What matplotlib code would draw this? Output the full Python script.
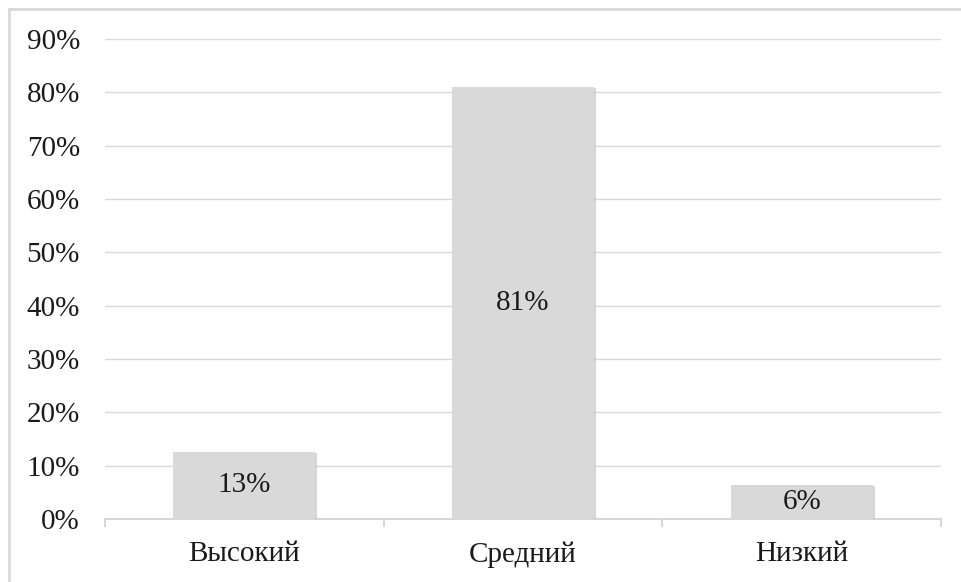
import matplotlib
matplotlib.use("Agg")
import matplotlib.pyplot as plt
from matplotlib.lines import Line2D
import matplotlib.patheffects as pe

categories = ["Высокий", "Средний", "Низкий"]
values = [12.6, 81.0, 6.4]
value_labels = ["13%", "81%", "6%"]
yticks = [0, 10, 20, 30, 40, 50, 60, 70, 80, 90]

plt.rcParams['font.family'] = ['Liberation Serif', 'DejaVu Serif']

W, H = 961, 582
fig = plt.figure(figsize=(W / 100, H / 100), dpi=100)
ax = fig.add_axes([105 / W, 1 - 519 / H, (941 - 105) / W, (519 - 39) / H])

x = list(range(len(categories)))
bars = ax.bar(x, values, width=0.51, color="#d9d9d9", zorder=3,
              path_effects=[pe.SimplePatchShadow(offset=(1.5, -1), shadow_rgbFace="#b0b0b0", alpha=0.5),
                            pe.Normal()])

for xi, v, lab in zip(x, values, value_labels):
    ax.text(xi, v / 2, lab, ha="center", va="center", fontsize=21, color="#1a1a1a", zorder=4)

ax.set_xlim(-0.5, 2.5)
ax.set_ylim(0, 90)
ax.set_yticks(yticks)
ax.set_yticklabels([f"{t}%" for t in yticks], fontsize=21, color="#1a1a1a")
ax.tick_params(axis="y", length=0, pad=18)
ax.yaxis.grid(True, color="#d9d9d9", linewidth=1.0, zorder=0)
ax.set_axisbelow(True)

ax.set_xticks(x)
ax.set_xticklabels(categories, fontsize=21, color="#1a1a1a")
ax.tick_params(axis="x", which="major", length=0, pad=16)
ax.set_xticks([-0.5, 0.5, 1.5, 2.5], minor=True)
ax.tick_params(axis="x", which="minor", length=6, width=1.2, color="#d0d0d0", direction="out")

for s in ["top", "right", "left"]:
    ax.spines[s].set_visible(False)
ax.spines["bottom"].set_color("#d0d0d0")
ax.spines["bottom"].set_linewidth(1.2)

# outer border (left and top edges visible)
fig.add_artist(Line2D([9 / W, 9 / W], [0, 1 - 9 / H], transform=fig.transFigure, color="#d9d9d9", linewidth=2))
fig.add_artist(Line2D([9 / W, 1], [1 - 9 / H, 1 - 9 / H], transform=fig.transFigure, color="#d9d9d9", linewidth=2))

fig.savefig("out.png", dpi=100, facecolor="white")
